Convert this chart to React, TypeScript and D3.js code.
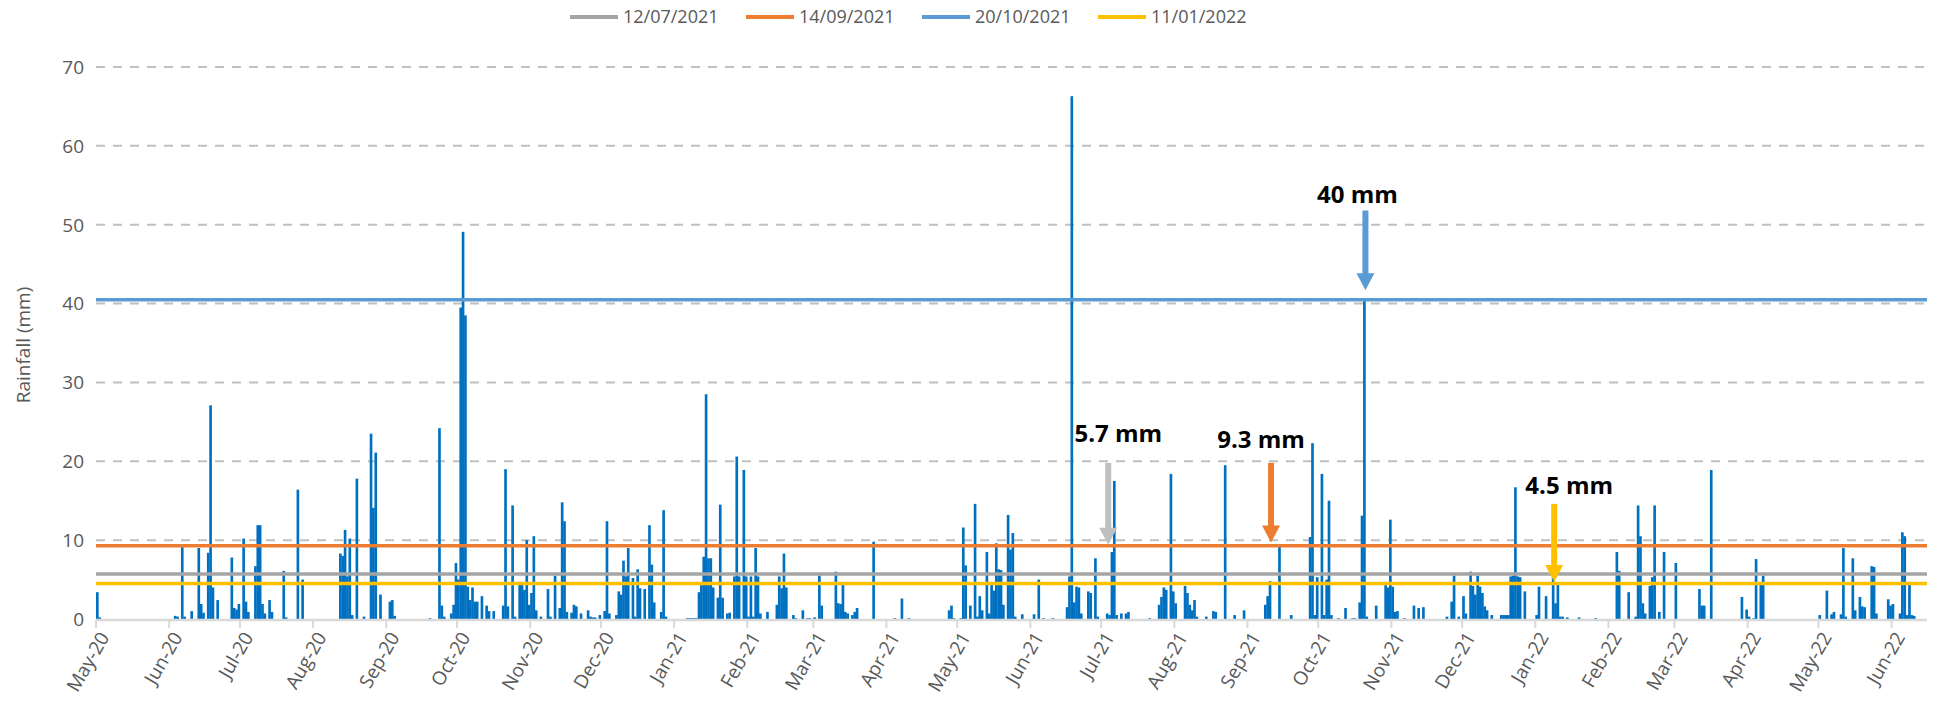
import React from 'react';
import * as d3 from 'd3';

// daily rainfall (mm), only the rainy days; dates are MM-DD inside each year
const rain2020: [string, number][] = [
  ['05-01', 3.4], ['05-02', 0.2],
  ['06-03', 0.4], ['06-04', 0.3], ['06-06', 9.5], ['06-07', 0.3], ['06-10', 1.0], ['06-13', 9.0], ['06-14', 1.9],
  ['06-15', 0.8], ['06-17', 8.4], ['06-18', 27.1], ['06-19', 4.0], ['06-21', 2.4], ['06-27', 7.8], ['06-28', 1.4],
  ['06-29', 1.2], ['06-30', 1.9],
  ['07-02', 10.2], ['07-03', 2.2], ['07-04', 0.9], ['07-07', 6.7], ['07-08', 11.9], ['07-09', 11.9], ['07-10', 1.9],
  ['07-11', 0.7], ['07-13', 2.4], ['07-14', 0.9], ['07-19', 6.1], ['07-20', 0.2], ['07-25', 16.4], ['07-27', 5.0],
  ['08-12', 8.3], ['08-13', 8.0], ['08-14', 11.3], ['08-15', 5.4], ['08-16', 10.2], ['08-17', 0.5], ['08-19', 17.8],
  ['08-22', 0.3], ['08-25', 23.5], ['08-26', 14.1], ['08-27', 21.1], ['08-29', 3.1],
  ['09-02', 2.2], ['09-03', 2.4], ['09-04', 0.4], ['09-19', 0.1], ['09-23', 24.2], ['09-24', 1.7], ['09-25', 0.3],
  ['09-28', 0.7], ['09-29', 1.8], ['09-30', 7.1],
  ['10-01', 5.0], ['10-02', 39.5], ['10-03', 49.1], ['10-04', 38.5], ['10-05', 4.1], ['10-06', 2.4], ['10-07', 4.0],
  ['10-08', 2.2], ['10-09', 2.2], ['10-11', 2.9], ['10-13', 1.7], ['10-14', 1.0], ['10-16', 1.0], ['10-20', 1.7],
  ['10-21', 19.0], ['10-22', 1.6], ['10-24', 14.4], ['10-25', 0.3], ['10-27', 4.7], ['10-28', 4.7], ['10-29', 3.7],
  ['10-30', 10.0], ['10-31', 1.8],
  ['11-01', 3.3], ['11-02', 10.5], ['11-03', 1.1], ['11-05', 0.3], ['11-08', 3.8], ['11-09', 0.3], ['11-11', 5.5],
  ['11-13', 1.4], ['11-14', 14.8], ['11-15', 12.4], ['11-16', 0.9], ['11-18', 0.8], ['11-19', 1.8], ['11-20', 1.6],
  ['11-22', 0.7], ['11-25', 1.1], ['11-26', 0.3], ['11-27', 0.2], ['11-28', 0.2], ['11-30', 0.5],
  ['12-02', 1.0], ['12-03', 12.4], ['12-04', 0.7], ['12-07', 0.5], ['12-08', 3.5], ['12-09', 3.1], ['12-10', 7.4],
  ['12-11', 5.4], ['12-12', 9.0], ['12-14', 5.2], ['12-15', 0.3], ['12-16', 6.3], ['12-17', 3.9], ['12-19', 3.8],
  ['12-21', 11.9], ['12-22', 6.9], ['12-23', 2.1], ['12-26', 0.9], ['12-27', 13.8], ['12-28', 0.3],
];

const rain2021: [string, number][] = [
  ['01-06', 0.1], ['01-07', 0.1], ['01-08', 0.1], ['01-09', 0.1], ['01-10', 0.1], ['01-11', 3.4], ['01-12', 4.3],
  ['01-13', 7.9], ['01-14', 28.5], ['01-15', 7.7], ['01-16', 7.7], ['01-17', 4.0], ['01-19', 2.7], ['01-20', 14.5],
  ['01-21', 2.7], ['01-23', 0.7], ['01-24', 0.8], ['01-26', 5.4], ['01-27', 20.6], ['01-28', 5.4], ['01-30', 18.9],
  ['01-31', 5.4],
  ['02-01', 0.3], ['02-02', 5.4], ['02-03', 0.3], ['02-04', 9.0], ['02-05', 5.4], ['02-06', 0.7], ['02-09', 0.9],
  ['02-13', 1.8], ['02-14', 5.4], ['02-15', 3.9], ['02-16', 8.3], ['02-17', 4.0], ['02-20', 0.5], ['02-21', 0.1],
  ['02-24', 1.1], ['02-26', 0.1], ['02-27', 0.1],
  ['03-01', 0.2], ['03-03', 5.5], ['03-04', 1.7], ['03-10', 6.0], ['03-11', 2.0], ['03-12', 1.9], ['03-13', 4.7],
  ['03-14', 0.9], ['03-15', 0.7], ['03-17', 0.5], ['03-18', 0.9], ['03-19', 1.4], ['03-26', 9.8],
  ['04-04', 0.1], ['04-07', 2.6], ['04-10', 0.1], ['04-27', 1.1], ['04-28', 1.7], ['04-29', 0.1],
  ['05-02', 0.1], ['05-03', 11.6], ['05-04', 6.8], ['05-06', 1.7], ['05-08', 14.6], ['05-09', 0.3], ['05-10', 2.9],
  ['05-11', 1.1], ['05-13', 8.5], ['05-14', 0.7], ['05-15', 4.7], ['05-16', 3.6], ['05-17', 9.6], ['05-18', 6.3],
  ['05-19', 6.2], ['05-20', 1.8], ['05-22', 13.2], ['05-23', 8.8], ['05-24', 10.9], ['05-25', 0.3], ['05-28', 0.6],
  ['06-02', 0.6], ['06-04', 5.0], ['06-06', 0.1], ['06-10', 0.1], ['06-16', 1.5], ['06-17', 5.4], ['06-18', 66.3],
  ['06-19', 2.1], ['06-20', 4.1], ['06-21', 4.0], ['06-22', 0.7], ['06-25', 3.5], ['06-26', 3.3], ['06-28', 7.7],
  ['06-29', 0.3],
  ['07-03', 0.7], ['07-04', 0.5], ['07-05', 8.5], ['07-06', 17.5], ['07-07', 0.5], ['07-09', 0.7], ['07-11', 0.7],
  ['07-12', 0.9], ['07-21', 0.1], ['07-25', 1.8], ['07-26', 2.8], ['07-27', 4.0], ['07-28', 3.7], ['07-30', 18.4],
  ['07-31', 3.5],
  ['08-01', 2.0], ['08-05', 4.2], ['08-06', 3.3], ['08-07', 1.8], ['08-08', 1.1], ['08-09', 2.4], ['08-10', 0.3],
  ['08-14', 0.3], ['08-17', 1.0], ['08-18', 0.9], ['08-22', 19.5], ['08-26', 0.5], ['08-30', 1.1],
  ['09-08', 1.8], ['09-09', 2.9], ['09-10', 4.8], ['09-14', 9.3], ['09-19', 0.5], ['09-27', 10.4], ['09-28', 22.3],
  ['09-29', 0.5], ['09-30', 5.3],
  ['10-02', 18.4], ['10-03', 0.5], ['10-04', 5.0], ['10-05', 15.0], ['10-06', 0.5], ['10-09', 0.1], ['10-12', 1.4],
  ['10-15', 0.1], ['10-16', 0.1], ['10-18', 2.1], ['10-19', 13.1], ['10-20', 40.5], ['10-21', 0.3], ['10-25', 1.7],
  ['10-29', 4.3], ['10-30', 4.0], ['10-31', 12.6],
  ['11-01', 4.1], ['11-02', 0.9], ['11-03', 1.0], ['11-06', 0.1], ['11-10', 1.7], ['11-12', 1.4], ['11-14', 1.5],
  ['11-24', 0.3], ['11-26', 2.2], ['11-27', 5.5], ['11-29', 0.3],
  ['12-01', 2.9], ['12-02', 0.7], ['12-04', 6.0], ['12-05', 4.2], ['12-06', 3.1], ['12-07', 5.5], ['12-08', 4.1],
  ['12-09', 3.3], ['12-10', 1.6], ['12-11', 1.1], ['12-13', 0.5], ['12-17', 0.5], ['12-18', 0.5], ['12-19', 0.5],
  ['12-20', 0.5], ['12-21', 5.4], ['12-22', 5.5], ['12-23', 16.7], ['12-24', 5.4], ['12-25', 5.3], ['12-27', 3.5],
];

const rain2022: [string, number][] = [
  ['01-01', 0.5], ['01-02', 4.1], ['01-05', 2.9], ['01-08', 5.4], ['01-09', 2.0], ['01-10', 4.5], ['01-11', 0.3],
  ['01-12', 0.3], ['01-14', 0.2], ['01-19', 0.2], ['01-26', 0.1],
  ['02-04', 8.5], ['02-05', 6.1], ['02-09', 3.4], ['02-12', 0.3], ['02-13', 14.4], ['02-14', 10.5], ['02-15', 2.0],
  ['02-16', 0.7], ['02-18', 4.2], ['02-19', 5.3], ['02-20', 14.4], ['02-22', 0.9], ['02-24', 8.5],
  ['03-01', 7.1], ['03-11', 3.8], ['03-12', 1.7], ['03-13', 1.7], ['03-16', 18.9], ['03-29', 2.8], ['03-31', 1.2],
  ['04-01', 0.3], ['04-03', 0.1], ['04-04', 7.6], ['04-06', 4.5], ['04-07', 5.5],
  ['05-01', 0.5], ['05-04', 3.6], ['05-06', 0.6], ['05-07', 0.9], ['05-10', 0.6], ['05-11', 9.0], ['05-12', 0.3],
  ['05-15', 7.7], ['05-16', 1.1], ['05-18', 2.8], ['05-19', 1.6], ['05-20', 1.5], ['05-23', 6.7], ['05-24', 6.6],
  ['05-25', 0.7], ['05-30', 2.5], ['05-31', 1.7],
  ['06-01', 1.9], ['06-04', 0.7], ['06-05', 11.0], ['06-06', 10.5], ['06-07', 0.5], ['06-08', 4.7], ['06-09', 0.5],
  ['06-10', 0.4],
];

// horizontal threshold lines (legend series)
const thresholdNames = ['12/07/2021', '14/09/2021', '20/10/2021', '11/01/2022'];
const thresholdValues = [5.7, 9.3, 40.5, 4.5];
const thresholdColors = ['#a5a5a5', '#ed7d31', '#5b9bd5', '#ffc000'];

// arrow call-outs
const noteLabels = ['5.7 mm', '9.3 mm', '40 mm', '4.5 mm'];
const noteDates = ['2021-07-04', '2021-09-11', '2021-10-21', '2022-01-09'];
const noteArrowFrom = [19.8, 19.8, 51.8, 14.6];
const noteArrowTo = [9.4, 9.7, 41.7, 4.7];
const noteTextAt = [22.5, 21.7, 52.8, 15.8];
const noteTextDx = [10, -10, -8, 15];
const noteColors = ['#bfbfbf', '#ed7d31', '#5b9bd5', '#ffc000'];

const yTicks = [0, 10, 20, 30, 40, 50, 60, 70];

const W = 1934;
const H = 704;
const FONT = '"Open Sans", "DejaVu Sans", sans-serif';

const parse = d3.utcParse('%Y-%m-%d');
const fmt = d3.utcFormat('%b-%y');

const App = () => {
  const left = 96;
  const right = 1927;
  const top = 67;
  const bottom = 619;

  const start = parse('2020-05-01') as Date;
  const end = parse('2022-06-16') as Date;

  const x = d3.scaleUtc().domain([start, end]).range([left, right]);
  const y = d3.scaleLinear().domain([0, 70]).range([bottom, top]);
  const dayW = x(d3.utcDay.offset(start, 1)) - x(start);

  const rain = [
    ...rain2020.map(([d, v]) => ({ date: parse(`2020-${d}`) as Date, v })),
    ...rain2021.map(([d, v]) => ({ date: parse(`2021-${d}`) as Date, v })),
    ...rain2022.map(([d, v]) => ({ date: parse(`2022-${d}`) as Date, v })),
  ];

  const months = d3.utcMonth.range(start, d3.utcDay.offset(end, 1));

  // legend layout
  const legendX = [570, 746, 922, 1098];
  const legendY = 17;

  return (
    <svg width={W} height={H} style={{ position: 'absolute', left: 0, top: 0, background: '#fff' }}
      fontFamily={FONT}>
      {/* gridlines */}
      {yTicks.filter(t => t > 0).map(t => (
        <line key={t} x1={left} x2={right} y1={y(t)} y2={y(t)}
          stroke="#c0c0c0" strokeWidth={2} strokeDasharray="9,8" />
      ))}

      {/* y labels */}
      {yTicks.map(t => (
        <text key={t} x={84} y={y(t)} dy="0.36em" textAnchor="end" fontSize={19} fill="#595959">{t}</text>
      ))}
      <text transform={`translate(30,345) rotate(-90)`} textAnchor="middle"
        fontSize={19} fill="#595959">Rainfall (mm)</text>

      {/* bars */}
      {rain.map((d, i) => (
        <rect key={i} x={x(d.date)} y={y(d.v)} width={dayW + 0.3} height={Math.max(0, bottom - y(d.v))} fill="#0070c0" />
      ))}

      {/* x axis */}
      <line x1={left} x2={right} y1={bottom + 1} y2={bottom + 1} stroke="#d9d9d9" strokeWidth={2.5} />
      {months.map((m, i) => (
        <g key={i}>
          <line x1={x(m)} x2={x(m)} y1={bottom + 1} y2={bottom + 9} stroke="#d9d9d9" strokeWidth={2} />
          <text transform={`translate(${x(m) + 14},${bottom + 18}) rotate(-60)`} textAnchor="end"
            fontSize={19} fill="#595959">{fmt(m)}</text>
        </g>
      ))}

      {/* threshold lines */}
      {thresholdValues.map((v, i) => (
        <line key={i} x1={left} x2={right} y1={y(v)} y2={y(v)} stroke={thresholdColors[i]} strokeWidth={3.5} />
      ))}

      {/* arrows + labels */}
      {noteLabels.map((lab, i) => {
        const ax = x(parse(noteDates[i]) as Date);
        const y0 = y(noteArrowFrom[i]);
        const y1 = y(noteArrowTo[i]);
        const head = 17;
        return (
          <g key={i}>
            <rect x={ax - 3} y={y0} width={6} height={y1 - y0 - head + 1} fill={noteColors[i]} />
            <path d={`M${ax - 9},${y1 - head} L${ax + 9},${y1 - head} L${ax},${y1} Z`} fill={noteColors[i]} />
            <text x={ax + noteTextDx[i]} y={y(noteTextAt[i])} textAnchor="middle" fontSize={24}
              fontWeight="bold" fill="#000">{lab}</text>
          </g>
        );
      })}

      {/* legend */}
      {thresholdNames.map((n, i) => (
        <g key={n} transform={`translate(${legendX[i]},${legendY})`}>
          <line x1={0} x2={48} y1={0} y2={0} stroke={thresholdColors[i]} strokeWidth={4} />
          <text x={53} y={0} dy="0.36em" fontSize={18} fill="#595959">{n}</text>
        </g>
      ))}
    </svg>
  );
};

export default App;
